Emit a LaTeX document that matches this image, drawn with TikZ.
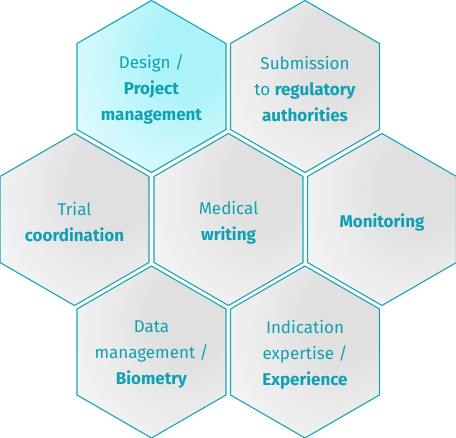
\documentclass[tikz,border=0pt]{standalone}
\usepackage{fontspec}
\setmainfont{Fira Sans}
\usetikzlibrary{shapes.geometric}
\definecolor{hexline}{RGB}{24,164,180}
\definecolor{hextext}{RGB}{16,160,178}
\definecolor{hgL}{RGB}{248,248,248}
\definecolor{hgD}{RGB}{224,224,224}
\definecolor{hcL}{RGB}{232,252,254}
\definecolor{hcD}{RGB}{172,243,249}
\pgfdeclareradialshading{hexgray}{\pgfpoint{15bp}{12bp}}{color(0bp)=(hgD); color(12bp)=(hgD); color(42bp)=(hgL); color(80bp)=(hgL)}
\pgfdeclareradialshading{hexcyan}{\pgfpoint{15bp}{12bp}}{color(0bp)=(hcD); color(12bp)=(hcD); color(42bp)=(hcL); color(80bp)=(hcL)}
\begin{document}
\begin{tikzpicture}[x=1pt,y=-1pt,
  hexbox/.style={regular polygon, regular polygon sides=6, regular polygon rotate=30,
    minimum size=172pt, inner sep=0pt, outer sep=0pt, draw=hexline, line width=1.1pt,
    shading=hexgray},
  hexhot/.style={hexbox, shading=hexcyan},
  lbl/.style={align=center, text=hextext, inner sep=0pt, yshift=-3pt, font=\fontsize{17}{26}\selectfont}]
\useasboundingbox (0,0) rectangle (456,438);
\node[hexhot] (design) at (151.5,86.5) {};
\node[hexbox] (submit) at (305,86.5) {};
\node[hexbox] (trial) at (74.5,219.5) {};
\node[hexbox] (medical) at (228.5,219.5) {};
\node[hexbox] (monitor) at (382,219.5) {};
\node[hexbox] (data) at (151.5,352) {};
\node[hexbox] (indic) at (305,352) {};
\node[lbl] (tdesign) at (design.center) {Design /\\\textbf{Project}\\\textbf{management}};
\node[lbl] (tsubmit) at (submit.center) {Submission\\to \textbf{regulatory}\\\textbf{authorities}};
\node[lbl] (ttrial) at (trial.center) {Trial\\\textbf{coordination}};
\node[lbl] (tmedical) at (medical.center) {Medical\\\textbf{writing}};
\node[lbl] (tmonitor) at (monitor.center) {\textbf{Monitoring}};
\node[lbl] (tdata) at (data.center) {Data\\management /\\\textbf{Biometry}};
\node[lbl] (tindic) at (indic.center) {Indication\\expertise /\\\textbf{Experience}};
\end{tikzpicture}
\end{document}
